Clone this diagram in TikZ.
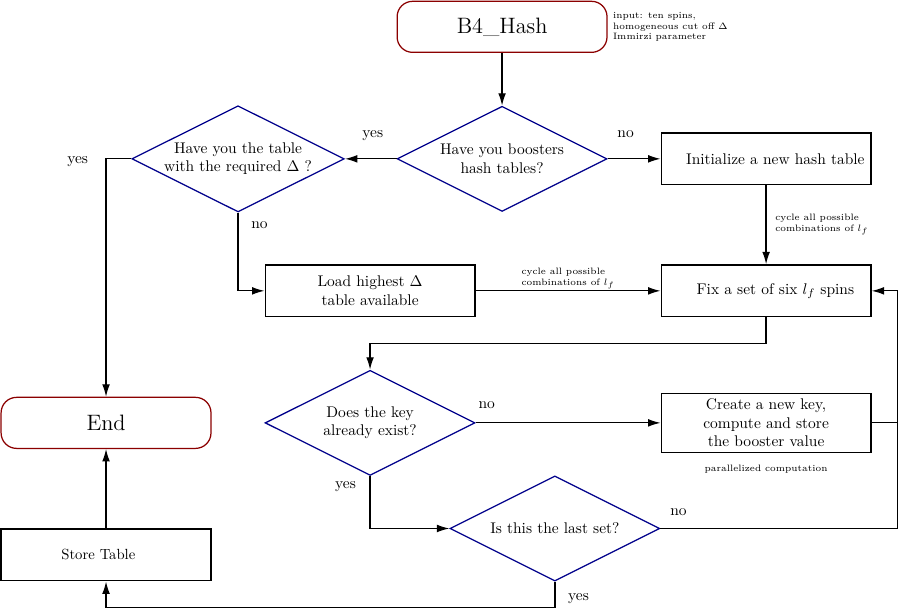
\documentclass[tikz,border=0pt]{standalone}
\usepackage{amsmath}
\usepackage{tikz}
\usetikzlibrary{arrows.meta}
\usetikzlibrary{shapes.geometric}
\usetikzlibrary{positioning}

\definecolor{endred}{RGB}{139,0,0}
\definecolor{askblue}{RGB}{0,0,139}

\begin{document}
\begin{tikzpicture}[>={Latex[length=8pt,width=5pt]}, node distance=3cm, on grid, auto,
  line width=0.8pt,
  terminal/.style={draw=endred, rounded corners=10pt, minimum width=4.77cm, minimum height=1.16cm, font=\Large},
  question/.style={draw=askblue, diamond, aspect=2, minimum width=4.77cm, minimum height=2.39cm, inner sep=0pt, align=center},
  stepbox/.style={draw, minimum width=4.77cm, minimum height=1.18cm, text width=4.53cm, align=center},
  answer/.style={inner sep=3.33pt},
  remark/.style={font=\fontsize{6}{7}\selectfont, inner sep=1pt, align=left}]

       \useasboundingbox (-11.41,0.61) rectangle (9.02,-13.23);

       \node[terminal] (B4_Hash) {B4\_Hash};
       \node[remark, right=0.11cm of B4_Hash.east, anchor=west, inner sep=0pt]
       (Input) {input: ten spins,\\homogeneous cut off $\Delta$\\Immirzi parameter};
       \node[question, below=of B4_Hash] (Boosters) {Have you boosters\\hash tables?};
       \path[->] (B4_Hash) edge (Boosters);
       \node[question, left=6cm of Boosters] (Table_Delta) {Have you the table\\with the required $\Delta$ ?};
       \path[->] (Boosters) edge node[answer, pos=0.46, above=0.28cm] {yes} (Table_Delta);
       \node[stepbox, right=6cm of Boosters] (Init_Table) {\hspace*{12pt}Initialize a new hash table};
       \path[->] (Boosters) edge node[answer, pos=0.34, above=0.35cm] {no} (Init_Table);
       \node[stepbox, below=of Init_Table] (Fix_Spins) {\hspace*{12pt}Fix a set of six $l_f$ spins};
       \path[->] (Init_Table) edge node[remark, right=0.16cm]
       {cycle all possible\\combinations of $l_f$} (Fix_Spins);
       \node[stepbox, left=9cm of Fix_Spins] (Load_Table) {Load highest $\Delta$\\table available};
       \draw[->] (Table_Delta.south) |- node[answer, pos=0.08, right=0.17cm] {no} (Load_Table.west);
       \path[->] (Load_Table) edge node[remark, above]
       {cycle all possible\\combinations of $l_f$} (Fix_Spins);

       \node[question, below=of Load_Table] (Key_Exist) {Does the key\\already exist?};
       \draw[->] (Fix_Spins.south) -- ++(0,-0.59) -| (Key_Exist.north);
       \node[stepbox, below=of Fix_Spins] (New_Key) {Create a new key,\\compute and store\\the booster value};
       \path[->] (Key_Exist) edge node[answer, pos=0.06, above=0.19cm] {no} (New_Key);
       \node[remark, below=0.23cm of New_Key.south] (Parallel) {parallelized computation};
       \node[question, below right=2.4cm and 4.2cm of Key_Exist] (Last_Set) {Is this the last set?};
       \draw[->] (Key_Exist.south) |- node[answer, pos=0.1, left=0.19cm] {yes} (Last_Set.west);
       \draw (New_Key.east) -- ++(0.59,0);
       \draw[->] (Last_Set.east) -| node[answer, pos=0.038, above=0.15cm] {no}
       ([xshift=0.59cm]Fix_Spins.east) -- (Fix_Spins.east);

       \node[terminal, left=6cm of Key_Exist] (End) {End};
       \draw[->] (Table_Delta.west) -| node[answer, pos=0.5, left=0.28cm, yshift=-0.07cm] {yes} (End.north);
       \node[stepbox, below=of End, font=\fontsize{9.5}{11}\selectfont] (Store_Table) {\mbox{Store Table\hspace{10pt}}};
       \draw[->] (Last_Set.south) -- node[answer, pos=0.67, right=0.17cm] {yes} ++(0,-0.59) -| (Store_Table.south);
       \path[->] (Store_Table) edge (End);

     \end{tikzpicture}
\end{document}
